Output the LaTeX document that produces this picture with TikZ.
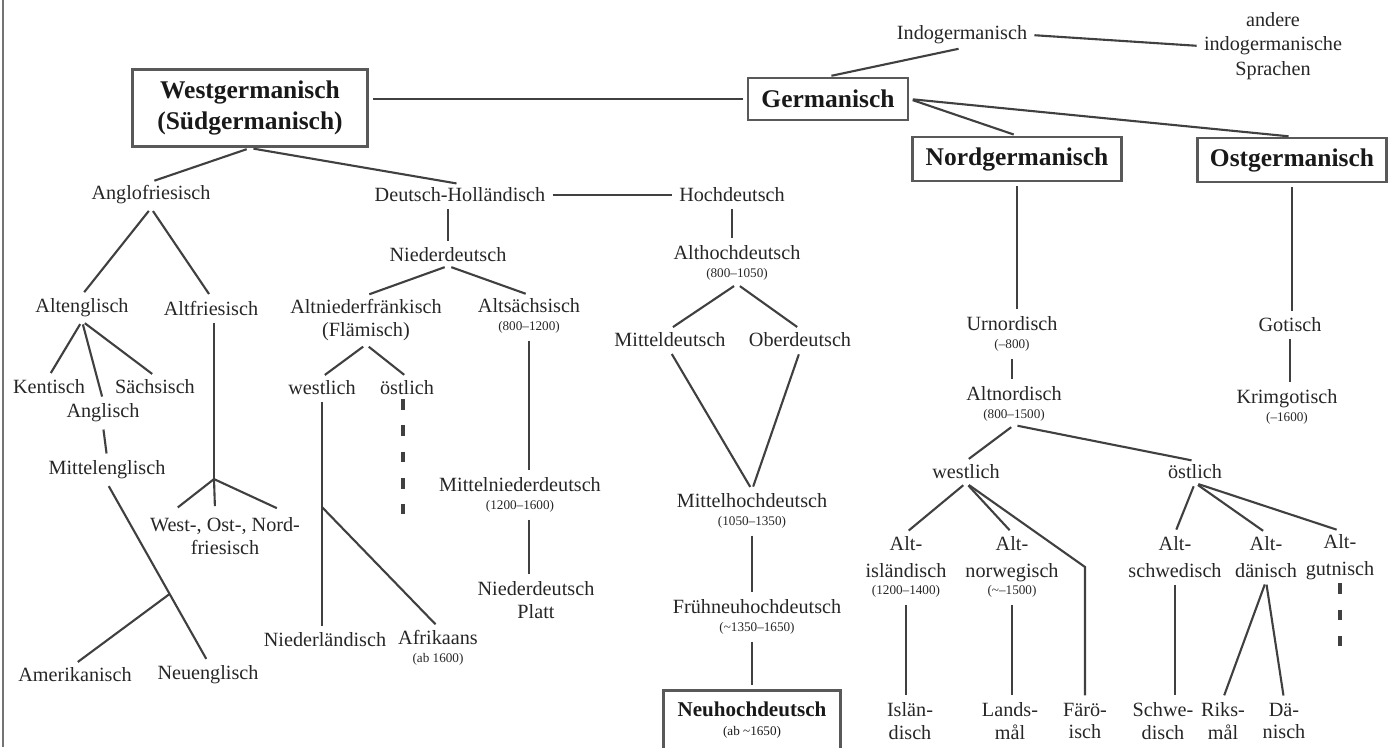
\documentclass[tikz,border=0pt]{standalone}
\usepackage{fontspec}
\setmainfont{Liberation Serif}
\usetikzlibrary{calc}
\newcommand{\yr}[1]{\\[-3pt]{\fontsize{7.5}{9}\selectfont(#1)}}
\tikzset{
  lang/.style={font=\fontsize{11.5}{13}\selectfont, text=black!85, align=center, inner sep=2pt},
  famlang/.style={draw=black!65, line width=1.6pt, font=\fontsize{14.5}{18}\selectfont\bfseries, text=black!90, align=center, inner sep=2pt},
  link/.style={draw=black!75, line width=1.2pt, shorten <=2pt, shorten >=2pt},
  dots/.style={draw=black!75, line width=1.8pt, dash pattern=on 6pt off 9pt}
}
\begin{document}
\begin{tikzpicture}[x=0.02cm, y=-0.02cm]
\useasboundingbox (0,0) rectangle (1395,747);
\draw[black!55, line width=1.5pt] (3,0) -- (3,747);

\node[lang] (indo) at (962,35) {Indogermanisch};
\node[lang] (andere) at (1273,46) {andere\\[1pt]indogermanische\\[1pt]Sprachen};
\node[famlang, minimum width=91pt, minimum height=24pt] (germ) at (828,99) {Germanisch};
\node[famlang, minimum width=134pt, minimum height=44pt] (west) at (250,108) {Westgermanisch\\(Südgermanisch)};
\node[famlang, minimum width=119pt, minimum height=25pt] (nord) at (1017,159) {Nordgermanisch};
\node[famlang, minimum width=108pt, minimum height=25pt] (ost) at (1292,160) {Ostgermanisch};

\node[lang] (anglofr) at (151,195) {Anglofriesisch};
\node[lang] (dh) at (460,195) {Deutsch-Holländisch};
\node[lang] (hd) at (732,195) {Hochdeutsch};
\node[lang] (nd) at (448,255) {Niederdeutsch};
\node[lang] (ahd) at (737,263) {Althochdeutsch\yr{800--1050}};
\node[lang] (ae) at (82,308) {Altenglisch};
\node[lang] (afr) at (211,308) {Altfriesisch};
\node[lang] (anf) at (366,320) {Altniederfränkisch\\(Flämisch)};
\node[lang] (as) at (529,316) {Altsächsisch\yr{800--1200}};
\node[lang] (md) at (670,340) {Mitteldeutsch};
\node[lang] (od) at (800,340) {Oberdeutsch};
\node[lang] (kent) at (49,387) {Kentisch};
\node[lang] (saechs) at (155,387) {Sächsisch};
\node[lang] (anglisch) at (103,413) {Anglisch};
\node[lang] (me) at (107,470) {Mittelenglisch};
\node[lang] (nfw) at (322,388) {westlich};
\node[lang] (nfo) at (407,388) {östlich};
\node[lang] (wonf) at (225,536) {West-, Ost-, Nord-\\friesisch};
\node[lang] (mnd) at (520,495) {Mittelniederdeutsch\yr{1200--1600}};
\node[lang] (mhd) at (752,511) {Mittelhochdeutsch\yr{1050--1350}};
\node[lang] (fnhd) at (757,617) {Frühneuhochdeutsch\yr{\textasciitilde1350--1650}};
\node[famlang, font=\fontsize{12}{14}\selectfont\bfseries, minimum width=101pt, minimum height=34pt] (nhd) at (752,720) {Neuhochdeutsch\\[-3pt]{\mdseries\fontsize{7.5}{9}\selectfont(ab \textasciitilde1650)}};
\node[lang] (ndp) at (536,600) {Niederdeutsch\\Platt};
\node[lang] (nl) at (325,640) {Niederländisch};
\node[lang] (afk) at (438,648) {Afrikaans\yr{ab 1600}};
\node[lang] (amer) at (75,675) {Amerikanisch};
\node[lang] (ne) at (208,675) {Neuenglisch};

\node[lang] (urn) at (1012,334) {Urnordisch\yr{--800}};
\node[lang] (an) at (1014,404) {Altnordisch\yr{800--1500}};
\node[lang] (got) at (1290,325) {Gotisch};
\node[lang] (krim) at (1287,407) {Krimgotisch\yr{--1600}};
\node[lang] (nw) at (966,472) {westlich};
\node[lang] (no) at (1195,472) {östlich};
\node[lang] (ais) at (906,567) {Alt-\\[2pt]isländisch\yr{1200--1400}};
\node[lang] (anw) at (1012,567) {Alt-\\[2pt]norwegisch\yr{\textasciitilde--1500}};
\node[lang] (aschw) at (1175,557) {Alt-\\[2pt]schwedisch};
\node[lang] (adae) at (1266,557) {Alt-\\[2pt]dänisch};
\node[lang] (agut) at (1340,557) {Alt-\\[2pt]gutnisch};
\node[lang] (isl) at (910,721) {Islän-\\disch};
\node[lang] (lands) at (1010,721) {Lands-\\mål};
\node[lang] (faer) at (1085,721) {Färö-\\isch};
\node[lang] (schw) at (1163,721) {Schwe-\\disch};
\node[lang] (riks) at (1223,721) {Riks-\\mål};
\node[lang] (dae) at (1284,721) {Dä-\\nisch};

\draw[link] (indo.south) -- (germ.north);
\draw[link] (indo.east) -- (andere.west);
\draw[link] (germ.west) -- (germ.west -| west.east);
\draw[link] (germ.east) -- (nord.north);
\draw[link] (germ.east) -- (ost.north);
\draw[link] (west.south) -- (anglofr.north);
\draw[link] (west.south) -- (dh.north);
\draw[link] (dh.east) -- (hd.west);
\draw[link] (nd.north |- dh.south) -- (nd.north);
\draw[link] (hd.south) -- (hd.south |- ahd.north);
\draw[link] (anglofr.south) -- (ae.north);
\draw[link] (anglofr.south) -- (afr.north);
\draw[link] (nd.south) -- (anf.north);
\draw[link] (nd.south) -- (as.north);
\draw[link] (ahd.south) -- (md.north);
\draw[link] (ahd.south) -- (od.north);
\draw[link] (md.south) -- (mhd.north);
\draw[link] (od.south) -- (mhd.north);
\draw[link] (mhd.south) -- (mhd.south |- fnhd.north);
\draw[link] (mhd.south |- fnhd.south) -- (mhd.south |- nhd.north);
\draw[link] (as.south) -- (as.south |- mnd.north);
\draw[link] (as.south |- mnd.south) -- (as.south |- ndp.north);
\draw[link] (ae.south) -- (kent.north);
\draw[link] (ae.south) -- (anglisch.north);
\draw[link] (ae.south) -- (saechs.north);
\draw[link] (anglisch.south) -- (me.north);
\coordinate (amj) at ($(me.south)!0.62!(ne.north)$);
\draw[link] (me.south) -- (ne.north);
\draw[link, shorten <=0pt] (amj) -- (amer.north);
\coordinate (afj) at ($(afr.south)+(3,160)$);
\draw[link, shorten >=0pt] (afj |- afr.south) -- (afj);
\draw[link, shorten <=0pt] (afj) -- ($(wonf.north)+(-50,-4)$);
\draw[link, shorten <=0pt] (afj) -- ($(wonf.north)+(-10,-4)$);
\draw[link, shorten <=0pt] (afj) -- ($(wonf.north)+(55,-4)$);
\draw[link] (anf.south) -- (nfw.north);
\draw[link] (anf.south) -- (nfo.north);
\draw[link] (nfw.south) -- (nfw.south |- nl.north);
\coordinate (afkj) at ($(nfw.south)!0.47!(nfw.south |- nl.north)$);
\draw[link, shorten <=0pt] (afkj) -- (afk.north);
\coordinate (nfoend) at ($(nfo.south)+(-4,115)$);
\draw[dots] (nfo.south -| nfoend) -- (nfoend);

\draw[link] (nord.south) -- (nord.south |- urn.north);
\draw[link] (urn.south) -- (urn.south |- an.north);
\draw[link] (ost.south) -- (ost.south |- got.north);
\draw[link] (got.south) -- (got.south |- krim.north);
\draw[link] (an.south) -- (nw.north);
\draw[link] (an.south) -- (no.north);
\draw[link] (nw.south) -- (ais.north);
\draw[link] (nw.south) -- (anw.north);
\coordinate (fbend) at (faer.north |- anw.center);
\draw[link] (nw.south) -- (fbend) -- (faer.north);
\draw[link] (ais.south) -- (ais.south |- isl.north);
\draw[link] (anw.south) -- (anw.south |- lands.north);
\draw[link] (no.south) -- (aschw.north);
\draw[link] (no.south) -- (adae.north);
\draw[link] (no.south) -- (agut.north);
\draw[link] (aschw.south) -- (aschw.south |- schw.north);
\draw[link] (adae.south) -- (riks.north);
\draw[link] (adae.south) -- (dae.north);
\coordinate (agutend) at ($(agut.south)+(0,75)$);
\draw[dots] (agut.south) -- (agutend);
\end{tikzpicture}
\end{document}
